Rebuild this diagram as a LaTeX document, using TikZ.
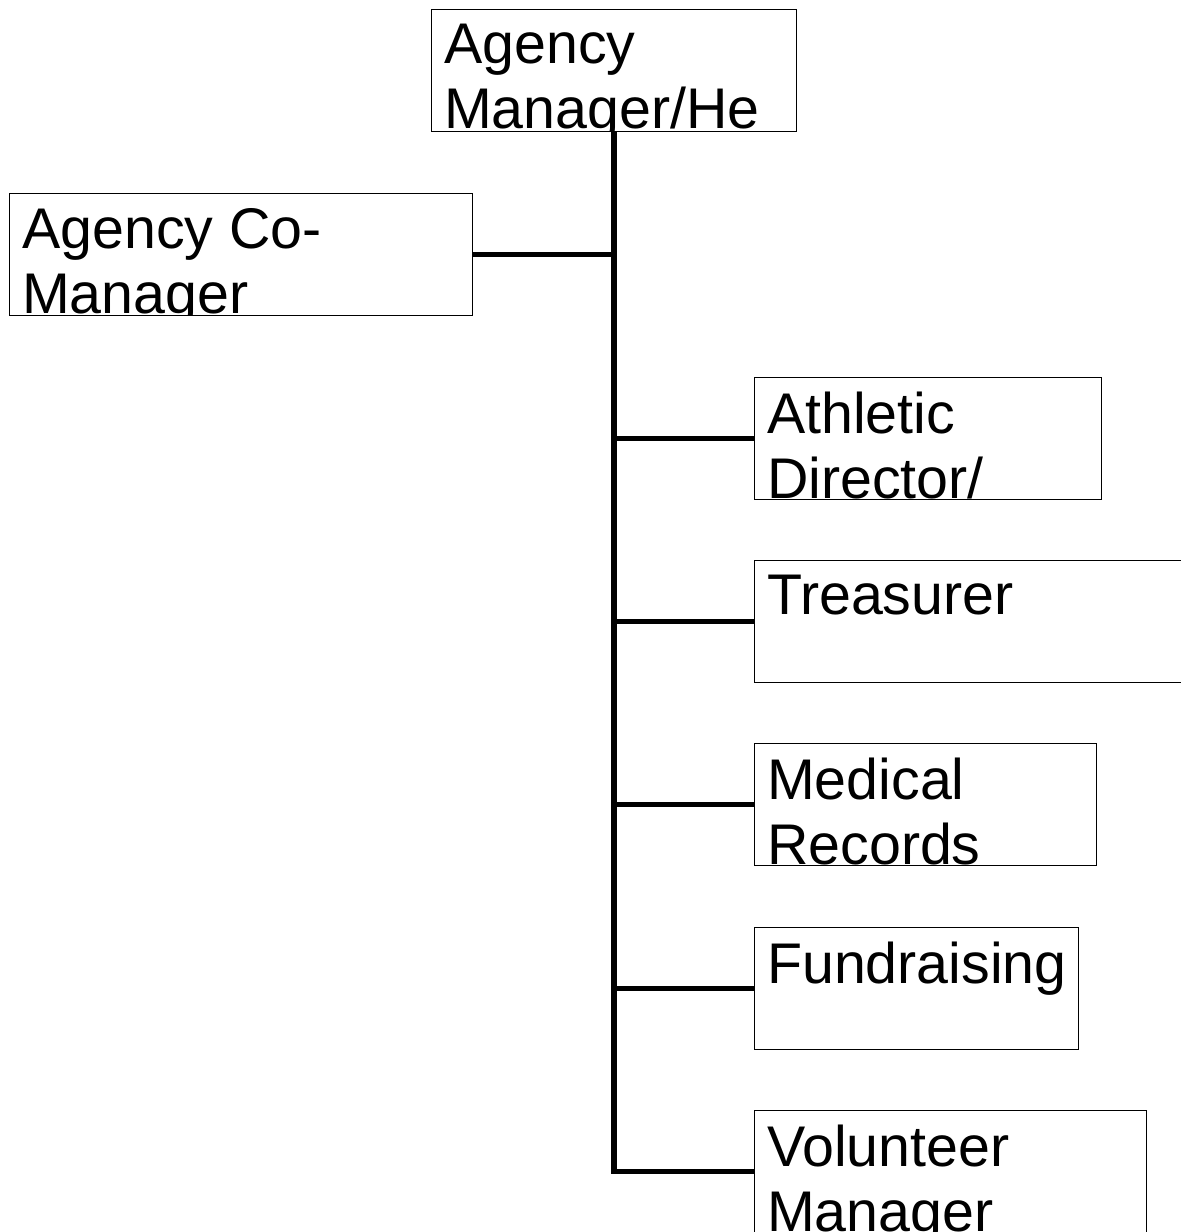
\documentclass[tikz,border=0pt]{standalone}
\usepackage{fontspec}
\setmainfont{Liberation Sans}
\newcommand{\boxfont}{\fontsize{43}{48.75}\selectfont}
\tikzset{
  box/.style={rectangle, draw, line width=0.9pt, anchor=north west, inner sep=0pt,
    minimum height=91.5pt, minimum width=#1},
  boxtext/.style={path picture={
    \node[anchor=north west, draw=none, inner sep=0pt, minimum width=0pt, minimum height=0pt,
      align=left, font=\boxfont]
      at ([xshift=9pt, yshift=-10.5pt]path picture bounding box.north west) {#1};}},
  link/.style={line width=4.1pt}
}
\begin{document}
\begin{tikzpicture}[x=0.75pt, y=-0.75pt]
\useasboundingbox (0,0) rectangle (1181,1232);

\node[box=273.75pt, boxtext={Agency\\Manager/He}] (head) at (431,9) {};
\node[box=347.25pt, boxtext={Agency Co-\\Manager}] (comgr) at (9,193) {};

\node[box=260.25pt, boxtext={Athletic\\Director/}] (athletic) at (754,377) {};
\node[box=320.25pt, boxtext={Treasurer}] (treasurer) at (754,560) {};
\node[box=256.5pt, boxtext={Medical\\Records}] (medical) at (754,743) {};
\node[box=243pt, boxtext={Fundraising}] (fund) at (754,927) {};
\node[box=294pt, boxtext={Volunteer\\Manager}] (volunteer) at (754,1110) {};

% trunk and branches
\draw[link] (head.south) |- (volunteer.west);
\draw[link] (comgr.east) -- (comgr.east -| head.south);
\draw[link] (athletic.west) -- (athletic.west -| head.south);
\draw[link] (treasurer.west) -- (treasurer.west -| head.south);
\draw[link] (medical.west) -- (medical.west -| head.south);
\draw[link] (fund.west) -- (fund.west -| head.south);
\end{tikzpicture}
\end{document}
